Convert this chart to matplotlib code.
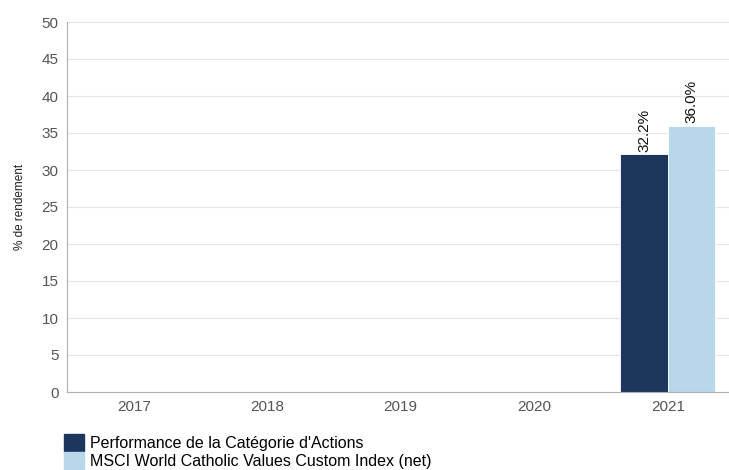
import matplotlib
matplotlib.use("Agg")
import matplotlib.pyplot as plt
from matplotlib.patches import Patch
import numpy as np

years = ["2017", "2018", "2019", "2020", "2021"]
fund_values = [np.nan, np.nan, np.nan, np.nan, 32.2]
index_values = [np.nan, np.nan, np.nan, np.nan, 36.0]
series_names = ["Performance de la Catégorie d'Actions",
                "MSCI World Catholic Values Custom Index (net)"]
colors = ["#1c365e", "#b8d7eb"]

FONT = ["Liberation Sans", "DejaVu Sans"]

fig = plt.figure(figsize=(7.29, 4.70), dpi=100)
ax = fig.add_axes([67 / 729, 1 - 392 / 470, (729 - 67) / 729, 370 / 470])

x = np.arange(len(years))
w = 0.355
for vals, off, col in zip([fund_values, index_values], [-w / 2, w / 2], colors):
    ax.bar(x + off, vals, width=w, color=col, edgecolor="white", linewidth=0.6)
    for xi, v in zip(x, vals):
        if not np.isnan(v):
            ax.text(xi + off, v + 0.3, f"{v:.1f}%", rotation=90, ha="center",
                    va="bottom", fontsize=11, color="#111111", family=FONT)

ax.set_ylim(0, 50)
ax.set_yticks(range(0, 51, 5))
ax.set_xlim(-0.5, -0.5 + 662 / 133.5)
ax.set_xticks(x)
ax.set_xticklabels(years)
ax.yaxis.grid(True, color="#e6e6e6", linewidth=0.8)
ax.set_axisbelow(True)
for s in ["top", "right"]:
    ax.spines[s].set_visible(False)
for s in ["left", "bottom"]:
    ax.spines[s].set_color("#b0b0b0")
    ax.spines[s].set_linewidth(0.8)
ax.tick_params(length=0, labelsize=11, colors="#555555")
ax.tick_params(axis="y", pad=6)
ax.tick_params(axis="x", pad=6)
for lab in ax.get_xticklabels() + ax.get_yticklabels():
    lab.set_family(FONT)

ax.set_ylabel("% de rendement", fontsize=8.5, color="#222222",
              family=FONT, labelpad=11)

handles = [Patch(color=c) for c in colors]
fig.legend(handles, series_names, loc="lower left", bbox_to_anchor=(58 / 729, -0.012),
           frameon=False, handlelength=1.25, handleheight=1.25, handletextpad=0.35,
           labelspacing=0.1, borderaxespad=0,
           prop={"family": FONT, "size": 11.5})

fig.savefig("out.png", dpi=100)
